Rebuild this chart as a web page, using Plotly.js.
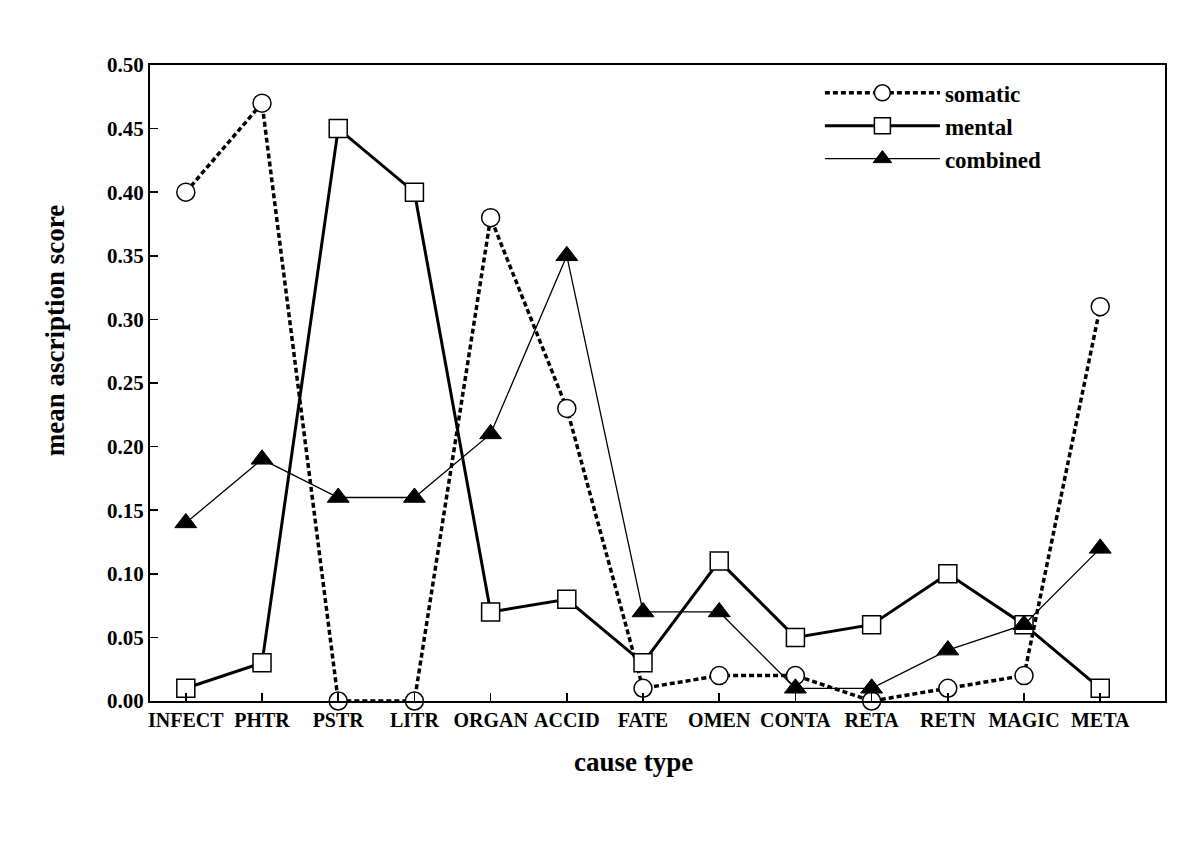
<!DOCTYPE html>
<html>
<head>
<meta charset="utf-8">
<script src="https://cdn.plot.ly/plotly-3.0.1.min.js"></script>
<style>html,body{margin:0;padding:0;background:#fff;}#chart{width:1200px;height:844px;}</style>
</head>
<body>
<div id="chart"></div>
<script>
const categories = ["INFECT","PHTR","PSTR","LITR","ORGAN","ACCID","FATE","OMEN","CONTA","RETA","RETN","MAGIC","META"];
const somatic  = [0.40, 0.47, 0.00, 0.00, 0.38, 0.23, 0.01, 0.02, 0.02, 0.00, 0.01, 0.02, 0.31];
const mental   = [0.01, 0.03, 0.45, 0.40, 0.07, 0.08, 0.03, 0.11, 0.05, 0.06, 0.10, 0.06, 0.01];
const combined = [0.14, 0.19, 0.16, 0.16, 0.21, 0.35, 0.07, 0.07, 0.01, 0.01, 0.04, 0.06, 0.12];
const yTicks = [0,0.05,0.10,0.15,0.20,0.25,0.30,0.35,0.40,0.45,0.50];
const xTitle = "cause type";
const yTitle = "mean ascription score";

const idx = categories.map((c,i)=>i);
const fam = "Liberation Serif, Times New Roman, serif";

const traces = [
  {x: idx, y: somatic, name: "somatic", mode: "lines+markers", cliponaxis:false,
   line:{color:"#000", width:3.5, dash:"5px,3px"},
   marker:{symbol:"circle", size:18, color:"#fff", line:{color:"#000", width:1.5}}},
  {x: idx, y: mental, name: "mental", mode: "lines+markers", cliponaxis:false,
   line:{color:"#000", width:3},
   marker:{symbol:"square", size:18, color:"#fff", line:{color:"#000", width:1.5}}},
  {x: idx, y: combined, name: "combined", mode: "lines+markers", cliponaxis:false,
   line:{color:"#000", width:1.3},
   marker:{symbol:"triangle-up", size:19, color:"#000", line:{color:"#000", width:1}}}
];

const layout = {
  width:1200, height:844,
  margin:{l:150, r:35, t:65, b:143},
  paper_bgcolor:"#fff", plot_bgcolor:"#fff",
  showlegend:true,
  legend:{x:0.66, y:0.99, xanchor:"left", yanchor:"top", bgcolor:"rgba(0,0,0,0)",
          font:{family:fam, size:23, color:"#000", weight:"bold"},
          tracegroupgap:0, itemwidth:115, itemsizing:"trace"},
  xaxis:{range:[-0.47, 12.85], tickmode:"array", tickvals:idx, ticktext:categories,
         showgrid:false, zeroline:false, showline:true, linecolor:"#000", linewidth:2, mirror:true,
         ticks:"inside", ticklen:8, tickwidth:1.5, tickcolor:"#000",
         tickfont:{family:fam, size:20, color:"#000", weight:"bold"}},
  yaxis:{range:[0,0.5], tickmode:"array", tickvals:yTicks, ticktext:yTicks.map(v=>v.toFixed(2)),
         showgrid:false, zeroline:false, showline:true, linecolor:"#000", linewidth:2, mirror:true,
         ticks:"inside", ticklen:8, tickwidth:1.5, tickcolor:"#000",
         tickfont:{family:fam, size:21, color:"#000", weight:"bold"}},
  annotations:[
    {text:xTitle, xref:"paper", yref:"paper", x:0.476, y:-0.096, xanchor:"center", yanchor:"middle",
     showarrow:false, font:{family:fam, size:27, color:"#000", weight:"bold"}},
    {text:yTitle, xref:"paper", yref:"paper", x:-0.0936, y:0.583, xanchor:"center", yanchor:"middle",
     textangle:-90, showarrow:false, font:{family:fam, size:27, color:"#000", weight:"bold"}}
  ]
};

Plotly.newPlot("chart", traces, layout, {displayModeBar:false, staticPlot:true});
</script>
</body>
</html>
